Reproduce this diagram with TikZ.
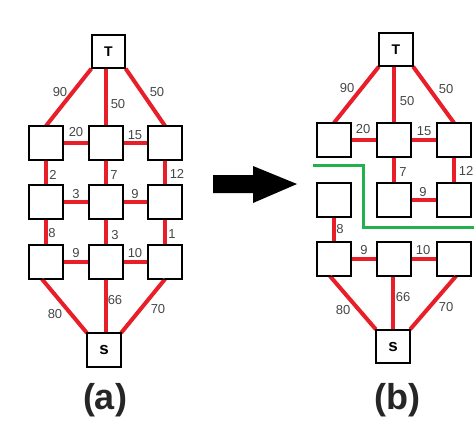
\documentclass[tikz,border=0pt]{standalone}
\usepackage{fontspec}
\setmainfont{Liberation Sans}
\definecolor{pred}{RGB}{232,30,40}
\definecolor{pgreen}{RGB}{34,177,76}
\definecolor{lblgray}{RGB}{70,70,70}
\begin{document}
\begin{tikzpicture}[x=1pt,y=-1pt,
  box/.style={draw=black,line width=1.3pt,fill=white,minimum size=33pt,inner sep=0pt,font=\fontsize{14}{14}\selectfont\bfseries},
  redge/.style={draw=pred,line width=4pt},
  lbl/.style={font=\fontsize{13}{13}\selectfont,text=lblgray,inner sep=0pt},
  captext/.style={font=\fontsize{36}{36}\selectfont\bfseries,text=black!85,inner sep=0pt}]
\useasboundingbox (0,0) rectangle (474,424);
% ---------- (a) ----------
\node[box] (aT) at (108.5,51.5) {T};
\node[box] (a11) at (46,143) {};
\node[box] (a12) at (106,143) {};
\node[box] (a13) at (165,143) {};
\node[box] (a21) at (46,202) {};
\node[box] (a22) at (106,202) {};
\node[box] (a23) at (165,202) {};
\node[box] (a31) at (46,262) {};
\node[box] (a32) at (106,262) {};
\node[box] (a33) at (165,262) {};
\node[box,font=\fontsize{17}{17}\selectfont\bfseries] (aS) at (104,350) {s};
\draw[redge] (aT.south west) -- (a11.north);
\draw[redge] (a12.north) -- (a12.north |- aT.south);
\draw[redge] (aT.south east) -- (a13.north);
\draw[redge] (a11) -- (a12);
\draw[redge] (a12) -- (a13);
\draw[redge] (a21) -- (a22);
\draw[redge] (a22) -- (a23);
\draw[redge] (a31) -- (a32);
\draw[redge] (a32) -- (a33);
\draw[redge] (a11) -- (a21);
\draw[redge] (a21) -- (a31);
\draw[redge] (a12) -- (a22);
\draw[redge] (a22) -- (a32);
\draw[redge] (a13) -- (a23);
\draw[redge] (a23) -- (a33);
\draw[redge] ([xshift=-4pt]a31.south) -- (aS.north west);
\draw[redge] (a32.south) -- (a32.south |- aS.north);
\draw[redge] (a33.south) -- (aS.north east);
\foreach \n in {aT,a11,a12,a13,a21,a22,a23,a31,a32,a33,aS}{\draw[black,line width=1.3pt] (\n.south west) rectangle (\n.north east);}
\node[lbl] (la1) at (60,92) {90};
\node[lbl] (la2) at (118,104) {50};
\node[lbl] (la3) at (157,92) {50};
\node[lbl] (la4) at (76,132) {20};
\node[lbl] (la5) at (135,135) {15};
\node[lbl] (la6) at (53,175) {2};
\node[lbl] (la7) at (114,175) {7};
\node[lbl] (la8) at (177,174) {12};
\node[lbl] (la9) at (76,194) {3};
\node[lbl] (la10) at (135,194) {9};
\node[lbl] (la11) at (52,233) {8};
\node[lbl] (la12) at (115,235) {3};
\node[lbl] (la13) at (172,234) {1};
\node[lbl] (la14) at (76,253) {9};
\node[lbl] (la15) at (135,253) {10};
\node[lbl] (la16) at (55,314) {80};
\node[lbl] (la17) at (115,300) {66};
\node[lbl] (la18) at (158,309) {70};
\node[captext] (capa) at (105,400) {(a)};
% ---------- arrow ----------
\fill[black] (213,175) -- (253,175) -- (253,166) -- (297,184) -- (253,203) -- (253,193) -- (213,193) -- cycle;
% ---------- (b) ----------
\node[box] (bT) at (396,49.5) {T};
\node[box] (b11) at (334,140) {};
\node[box] (b12) at (394,140) {};
\node[box] (b13) at (454,140) {};
\node[box] (b21) at (334,200) {};
\node[box] (b22) at (394,200) {};
\node[box] (b23) at (454,200) {};
\node[box] (b31) at (334,259) {};
\node[box] (b32) at (394,259) {};
\node[box] (b33) at (454,259) {};
\node[box,font=\fontsize{17}{17}\selectfont\bfseries] (bS) at (393,346.5) {s};
\draw[redge] (bT.south west) -- (b11.north);
\draw[redge] (b12.north) -- (b12.north |- bT.south);
\draw[redge] (bT.south east) -- (b13.north);
\draw[redge] (b11) -- (b12);
\draw[redge] (b12) -- (b13);
\draw[redge] (b22) -- (b23);
\draw[redge] (b31) -- (b32);
\draw[redge] (b32) -- (b33);
\draw[redge] (b12) -- (b22);
\draw[redge] (b13) -- (b23);
\draw[redge] (b21) -- (b31);
\draw[redge] ([xshift=-4pt]b31.south) -- (bS.north west);
\draw[redge] (bS.north) -- (bS.north |- b32.south);
\draw[redge] ([xshift=2pt]b33.south) -- (bS.north east);
\foreach \n in {bT,b11,b12,b13,b21,b22,b23,b31,b32,b33,bS}{\draw[black,line width=1.3pt] (\n.south west) rectangle (\n.north east);}
\node[lbl] (lb1) at (347,88) {90};
\node[lbl] (lb2) at (407,101) {50};
\node[lbl] (lb3) at (446,89) {50};
\node[lbl] (lb4) at (363,129) {20};
\node[lbl] (lb5) at (424,131) {15};
\node[lbl] (lb6) at (403,172) {7};
\node[lbl] (lb7) at (466,171) {12};
\node[lbl] (lb8) at (423,192) {9};
\node[lbl] (lb9) at (340,229) {8};
\node[lbl] (lb10) at (364,250) {9};
\node[lbl] (lb11) at (423,250) {10};
\node[lbl] (lb12) at (343,310) {80};
\node[lbl] (lb13) at (403,297) {66};
\node[lbl] (lb14) at (446,307) {70};
\node[captext] (capb) at (397,400) {(b)};
% green cut
\coordinate (g1) at (313,165);
\coordinate (g2) at (363,165);
\coordinate (g3) at (363,227);
\coordinate (g4) at (474,227);
\draw[pgreen,line width=3pt] (g1) -- (g2) -- (g3) -- (g4);
\end{tikzpicture}
\end{document}
